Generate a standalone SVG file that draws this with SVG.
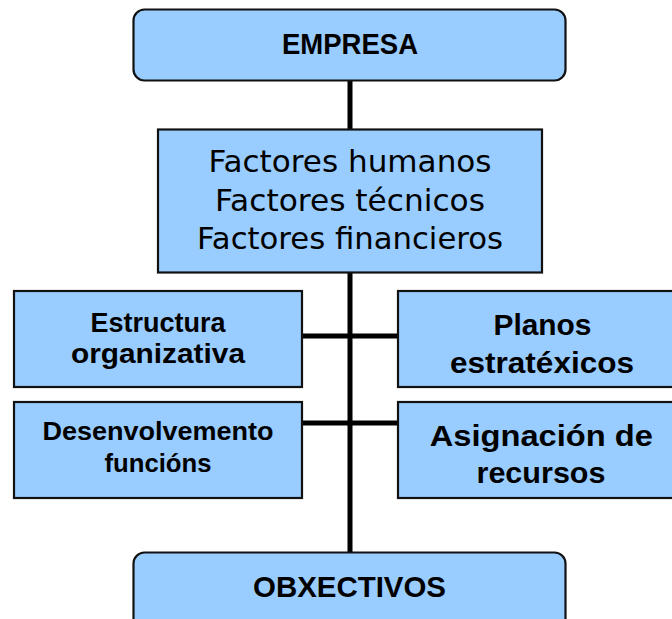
<svg xmlns="http://www.w3.org/2000/svg" width="672" height="619" viewBox="0 0 672 619">
<style>
.box{fill:#99CCFF;stroke:#111;stroke-width:2.2}
.con{stroke:#000;stroke-width:5;fill:none}
.b{font-family:"Liberation Sans",Arial,sans-serif;font-weight:bold;fill:#000;text-anchor:middle}
.r{font-family:"DejaVu Sans","Liberation Sans",sans-serif;fill:#000;text-anchor:middle}
</style>
<rect width="672" height="619" fill="#fff"/>
<g id="connectors">
<line class="con" x1="350" y1="80" x2="350" y2="554"/>
<line class="con" x1="301" y1="336" x2="399" y2="336"/>
<line class="con" x1="301" y1="423" x2="399" y2="423"/>
</g>
<g id="empresa">
<rect class="box" x="133.5" y="9.5" width="432" height="71" rx="11"/>
<text class="b" x="350" y="53.5" font-size="30" textLength="136" lengthAdjust="spacingAndGlyphs">EMPRESA</text>
</g>
<g id="factores">
<rect class="box" x="158" y="129.5" width="384" height="143"/>
<text class="r" x="350" y="172" font-size="30" textLength="283" lengthAdjust="spacingAndGlyphs">Factores humanos</text>
<text class="r" x="350" y="211" font-size="30" textLength="270" lengthAdjust="spacingAndGlyphs">Factores técnicos</text>
<text class="r" x="350" y="248.5" font-size="30" textLength="306" lengthAdjust="spacingAndGlyphs">Factores financieros</text>
</g>
<g id="estructura">
<rect class="box" x="14" y="291" width="288" height="96"/>
<text class="b" x="158" y="331.7" font-size="28" textLength="135" lengthAdjust="spacingAndGlyphs">Estructura</text>
<text class="b" x="158" y="363.3" font-size="28" textLength="174" lengthAdjust="spacingAndGlyphs">organizativa</text>
</g>
<g id="desenvolvemento">
<rect class="box" x="14" y="402" width="288" height="96"/>
<text class="b" x="158" y="440" font-size="25.5" textLength="231" lengthAdjust="spacingAndGlyphs">Desenvolvemento</text>
<text class="b" x="158" y="471.7" font-size="25.5" textLength="107" lengthAdjust="spacingAndGlyphs">funcións</text>
</g>
<g id="planos">
<rect class="box" x="398" y="291" width="290" height="96"/>
<text class="b" x="542.5" y="335" font-size="30" textLength="98" lengthAdjust="spacingAndGlyphs">Planos</text>
<text class="b" x="542" y="373.3" font-size="30" textLength="184" lengthAdjust="spacingAndGlyphs">estratéxicos</text>
</g>
<g id="asignacion">
<rect class="box" x="398" y="402" width="290" height="96"/>
<text class="b" x="541.3" y="445.7" font-size="30" textLength="223" lengthAdjust="spacingAndGlyphs">Asignación de</text>
<text class="b" x="541" y="483.3" font-size="30" textLength="129" lengthAdjust="spacingAndGlyphs">recursos</text>
</g>
<g id="obxectivos">
<rect class="box" x="133.5" y="552.5" width="432" height="80" rx="11"/>
<text class="b" x="349.5" y="596.7" font-size="30" textLength="193" lengthAdjust="spacingAndGlyphs">OBXECTIVOS</text>
</g>
</svg>
